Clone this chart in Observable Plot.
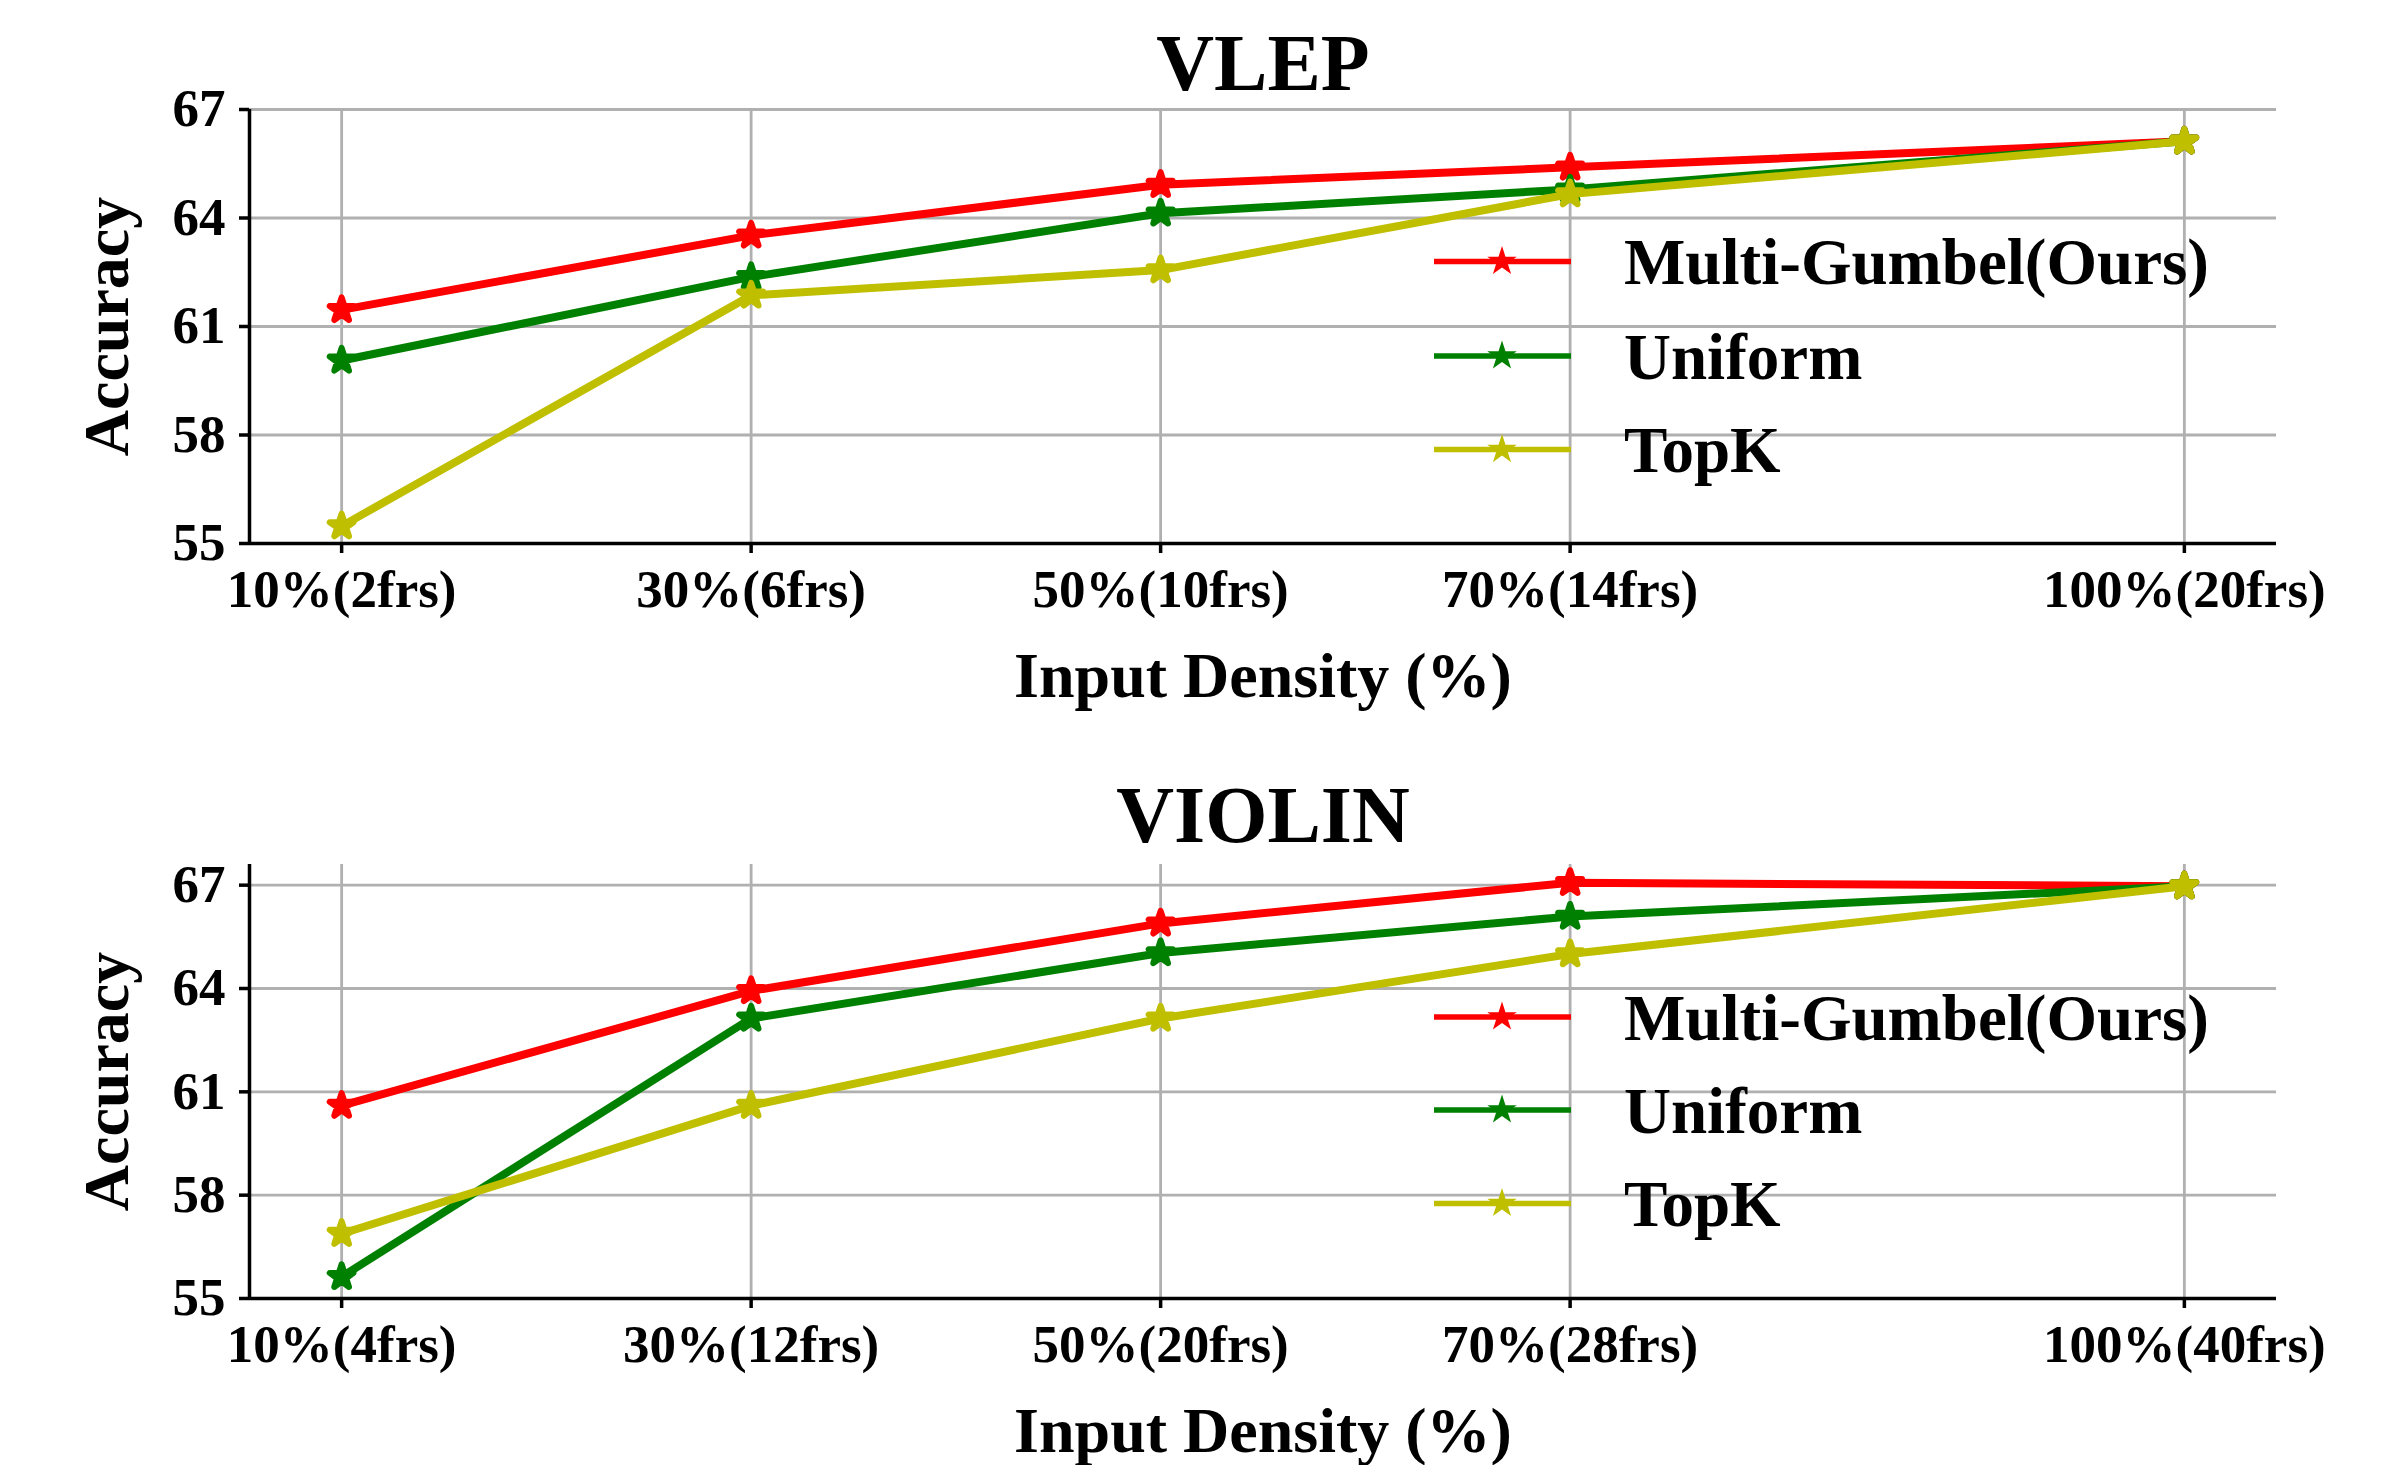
<!DOCTYPE html>
<html><head><meta charset="utf-8">
<script src="https://cdn.jsdelivr.net/npm/d3@7"></script>
<script src="https://cdn.jsdelivr.net/npm/@observablehq/plot@0.6"></script>
<style>
body{margin:0;background:#fff;}
#c{width:2398px;height:1465px;position:relative;}
#c svg{display:block;}
</style>
</head><body><div id="c"></div>
<script>
const densities = [10, 30, 50, 70, 100];
const vlepLabels = ["10%(2frs)", "30%(6frs)", "50%(10frs)", "70%(14frs)", "100%(20frs)"];
const violinLabels = ["10%(4frs)", "30%(12frs)", "50%(20frs)", "70%(28frs)", "100%(40frs)"];
const yTicks = [55, 58, 61, 64, 67];
const seriesNames = ["Multi-Gumbel(Ours)", "Uniform", "TopK"];
const seriesColors = ["#ff0000", "#008000", "#bfbf00"];

const vlepMulti   = [61.46, 63.52, 64.92, 65.40, 66.12];
const vlepUniform = [60.06, 62.37, 64.13, 64.79, 66.12];
const vlepTopK    = [55.48, 61.86, 62.56, 64.66, 66.12];

const violinMulti   = [60.60, 63.93, 65.89, 67.07, 66.97];
const violinUniform = [55.63, 63.13, 65.03, 66.09, 66.97];
const violinTopK    = [56.88, 60.60, 63.13, 65.00, 66.97];

const FONT = "'Liberation Serif', 'Times New Roman', Times, serif";

function makeChart(cfg) {
  const rows = [];
  cfg.series.forEach((vals, si) => {
    vals.forEach((v, i) => rows.push({series: seriesNames[si], x: densities[i], y: v}));
  });
  const seriesMarks = [];
  seriesNames.forEach(name => {
    const r = rows.filter(d => d.series === name);
    seriesMarks.push(Plot.line(r, {x: "x", y: "y", stroke: "series", strokeWidth: 8}));
    seriesMarks.push(Plot.dot(r, {x: "x", y: "y", fill: "series", stroke: "series", symbol: "star", r: 7.5, strokeWidth: 6, strokeLinejoin: "round"}));
  });
  const plot = Plot.plot({
    width: 2398,
    height: cfg.height,
    marginLeft: 249,
    marginRight: 122,
    marginTop: cfg.marginTop,
    marginBottom: cfg.marginBottom,
    style: {fontFamily: FONT, fontWeight: "bold", color: "#000", background: "#fff", overflow: "visible"},
    x: {domain: [5.5, 104.5]},
    y: {domain: cfg.yDomain},
    color: {domain: seriesNames, range: seriesColors},
    marks: [
      Plot.gridX(densities, {stroke: "#b0b0b0", strokeOpacity: 1, strokeWidth: 2.8}),
      Plot.gridY(yTicks, {stroke: "#b0b0b0", strokeOpacity: 1, strokeWidth: 2.8}),
      Plot.axisX(densities, {tickFormat: d => cfg.labels[densities.indexOf(d)], fontSize: 53, tickSize: 10, tickPadding: 16, strokeWidth: 3.5, label: null}),
      Plot.axisY(yTicks, {fontSize: 53, tickSize: 10, tickPadding: 14, strokeWidth: 3.5, label: null}),
      Plot.ruleX([5.5], {stroke: "#000", strokeWidth: 3.5}),
      Plot.ruleY([cfg.yDomain[0]], {stroke: "#000", strokeWidth: 3.5}),
      ...seriesMarks,
      Plot.text([cfg.title], {frameAnchor: "top", lineAnchor: "bottom", dy: cfg.titleDy, fontSize: 80, fontWeight: "bold"}),
      Plot.text(["Input Density (%)"], {frameAnchor: "bottom", lineAnchor: "top", dy: cfg.xLabelDy, fontSize: 64, fontWeight: "bold"}),
      Plot.text(["Accuracy"], {frameAnchor: "left", textAnchor: "middle", lineAnchor: "middle", rotate: -90, dx: -142, fontSize: 64, fontWeight: "bold"})
    ]
  });
  const svg = d3.select(plot);
  const g = svg.append("g").attr("font-family", FONT).attr("font-weight", "bold");
  seriesNames.forEach((name, i) => {
    const y = cfg.legendY[i];
    g.append("line").attr("x1", 1434).attr("x2", 1571).attr("y1", y).attr("y2", y)
      .attr("stroke", seriesColors[i]).attr("stroke-width", 5.5);
    g.append("path").attr("d", d3.symbol(d3.symbolStar, 270)())
      .attr("transform", `translate(1502,${y})`).attr("fill", seriesColors[i]);
    g.append("text").attr("x", 1624).attr("y", y).attr("dy", "0.35em")
      .attr("text-anchor", "start")
      .attr("font-size", 65).attr("fill", "#000").text(name);
  });
  return plot;
}

const c = document.getElementById("c");
c.appendChild(makeChart({
  title: "VLEP", labels: vlepLabels, series: [vlepMulti, vlepUniform, vlepTopK],
  yDomain: [55, 67], height: 732, marginTop: 109, marginBottom: 189,
  titleDy: -20, xLabelDy: 108, legendY: [261.5, 356, 449.6]
}));
c.appendChild(makeChart({
  title: "VIOLIN", labels: violinLabels, series: [violinMulti, violinUniform, violinTopK],
  yDomain: [55, 67.6], height: 733, marginTop: 132, marginBottom: 167,
  titleDy: -23, xLabelDy: 108, legendY: [285, 378, 471.5]
}));
</script>
</body></html>
